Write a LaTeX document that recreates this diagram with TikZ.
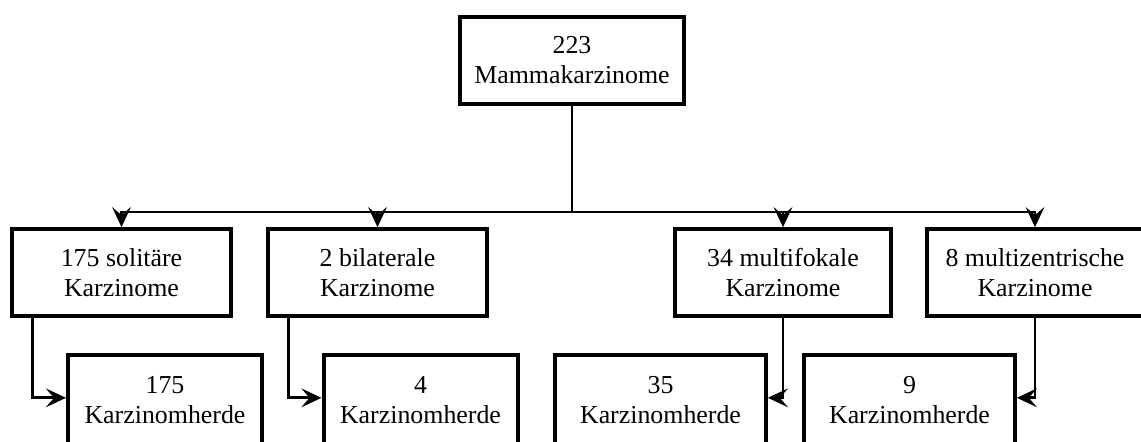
\documentclass[tikz,border=0pt]{standalone}
\usepackage{fontspec}
\setmainfont{Liberation Serif}
\newfontfamily\schrift{Liberation Serif}
\usetikzlibrary{arrows.meta}
\tikzset{
    kasten/.style={draw, line width=3pt, align=center, minimum height=65pt, inner sep=2pt,
                   font=\schrift\fontsize{19.4pt}{22.5pt}\selectfont},
    pfeil/.style={line width=2.2pt, -{Stealth[length=15pt, width=14pt, inset=6pt]}}
}
\begin{document}
\begin{tikzpicture}[x=0.75pt, y=-0.75pt]
                    \useasboundingbox (0,0) rectangle (1141,442);
                    \node[kasten, minimum width=168pt] (total) at (572,60.5) {223\\Mammakarzinome};
                    \node[kasten, minimum width=164pt] (sol) at (121.5,272.5) {175 solitäre\\Karzinome};
                    \node[kasten, minimum width=164pt] (bil) at (377.5,272.5) {2 bilaterale\\Karzinome};
                    \node[kasten, minimum width=162pt] (mf) at (783,272.5) {34 multifokale\\Karzinome};
                    \node[kasten, minimum width=162pt] (mz) at (1035,272.5) {8 multizentrische\\Karzinome};
                    \node[kasten, minimum width=145.5pt, minimum height=69pt] (hsol) at (165,400.5) {175\\Karzinomherde};
                    \node[kasten, minimum width=145.5pt, minimum height=69pt] (hbil) at (420.5,400.5) {4\\Karzinomherde};
                    \node[kasten, minimum width=158pt, minimum height=69pt] (hmf) at (660.5,400.5) {35\\Karzinomherde};
                    \node[kasten, minimum width=158pt, minimum height=69pt] (hmz) at (909.5,400.5) {9\\Karzinomherde};
                    \coordinate (verteiler) at (572,212);
                    \draw[line width=2.2pt] (total.south) -- (verteiler);
                    \foreach \n in {sol, bil, mf, mz} {
                            \draw[pfeil] (verteiler) -| (\n.north);
                        }
                    \draw[pfeil] ([xshift=17pt]sol.south west) |- ([yshift=2pt]hsol.west);
                    \draw[pfeil] ([xshift=17pt]bil.south west) |- ([yshift=2pt]hbil.west);
                    \draw[pfeil] (mf.south) |- ([yshift=2pt]hmf.east);
                    \draw[pfeil] (mz.south) |- ([yshift=2pt]hmz.east);
                \end{tikzpicture}
\end{document}
